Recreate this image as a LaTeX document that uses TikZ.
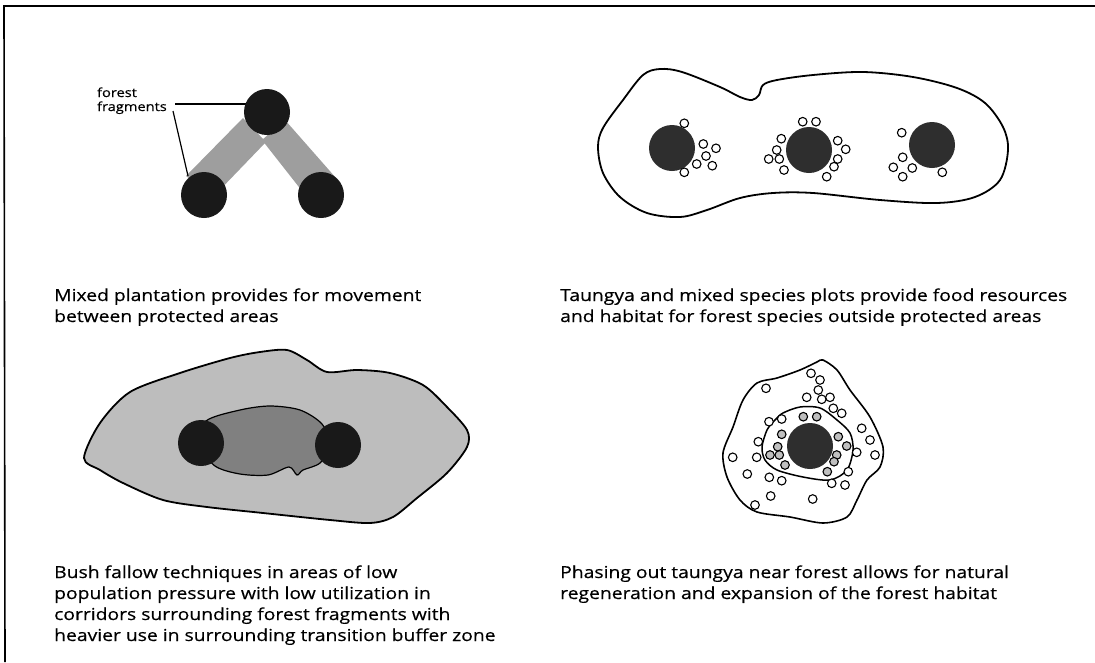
\documentclass[tikz,border=0pt]{standalone}
\usepackage{fontspec}
\setmainfont{Open Sans}
\newfontfamily\capfont[FakeStretch=1.17,FakeBold=0.4]{Open Sans}
\usetikzlibrary{calc}
\begin{document}
\begin{tikzpicture}[x=1pt,y=-1pt,
  outline/.style={draw=black,line width=1.8pt,line join=round},
  darkdot/.style={circle,fill=black!90,minimum size=46pt,inner sep=0pt},
  greydot/.style={circle,fill=black!82,minimum size=46pt,inner sep=0pt},
  ring/.style={circle,draw=black,line width=1.1pt,fill=white,minimum size=8.6pt,inner sep=0pt},
  dotring/.style={circle,draw=black,line width=1.1pt,fill=black!25,minimum size=8.6pt,inner sep=0pt},
  caption/.style={anchor=base west,font=\capfont\fontsize{16.5}{21}\selectfont,inner sep=0pt},
  tag/.style={font=\capfont\fontsize{12.5}{15}\selectfont,inner sep=0pt},
  leader/.style={draw=black,line width=1.2pt},
  corridor/.style={fill=black!38},
  frameline/.style={draw=black,line width=1.6pt}]
\useasboundingbox (0,0) rectangle (1095,662);
\fill[white] (0,0) rectangle (1095,662);
% frame
\coordinate (f0) at (4,6); \coordinate (f1) at (1095,6); \coordinate (f2) at (5,662);
\draw[frameline] (f1) -- (f0) -- (f2);

% ---------- top left ----------
\coordinate (c1) at (267,112);
\coordinate (c2) at (204,195);
\coordinate (c3) at (321,195);
\fill[corridor] (186,176) -- (243,118) -- (266,142) -- (214,196) -- cycle;
\fill[corridor] (285,120) -- (336,178) -- (306,196) -- (262,140) -- cycle;
\node[tag,anchor=base east] (t2) at (167,111) {fragments};
\node[tag,anchor=base west] (t1) at ($(t2.base west)+(0,-14)$) {forest};
\coordinate (l0) at (175,104);
\coordinate (l1) at (173,111);
\coordinate (l2) at (188,176);
\draw[leader] (l0) -- (l0 -| c1);
\draw[leader] (l1) -- (l2);
\node[darkdot] (d1) at (c1) {};
\node[darkdot] (d2) at (c2) {};
\node[darkdot] (d3) at (c3) {};
\node[caption] (cap1a) at (54,301) {Mixed plantation provides for movement};
\node[caption] (cap1b) at (54,322) {between protected areas};

% ---------- top right ----------
\draw[outline] plot[smooth cycle,tension=0.55] coordinates {
 (598,147) (603,128) (623,100) (643,75) (660,69) (682,72) (720,87) (740,97)
 (752,100) (759,95) (763,85) (777,80) (813,75) (863,72) (913,77) (957,88)
 (985,103) (1003,127) (1008,150) (1000,180) (975,197) (937,203) (880,200)
 (813,193) (773,193) (740,198) (707,210) (680,217) (647,213) (620,197) (603,173)};
\node[greydot] (e1) at (672,148) {};
\node[greydot] (e2) at (809,150) {};
\node[greydot] (e3) at (932,145) {};
\foreach \p [count=\i] in {(684.3,123.3),(703.3,144),(716,148.3),(706,156),(696.7,164),(712.3,165.7),(684.3,172.3)}
  \node[ring] (ra\i) at \p {};
\foreach \p [count=\i] in {(802.7,121.7),(816,121.7),(781.3,138.7),(776.7,150),(768.7,159),(779.3,159),(784,170),(837.7,140.7),(845.7,149.3),(837.7,159),(834,166.7),(826.7,176.7)}
  \node[ring] (rb\i) at \p {};
\foreach \p [count=\i] in {(901.7,132.7),(902.7,157.3),(893.3,167.3),(912.3,168),(902.7,176.7),(942.3,172.3)}
  \node[ring] (rc\i) at \p {};
\node[caption] (cap2a) at (560,301) {Taungya and mixed species plots provide food resources};
\node[caption] (cap2b) at (560,322) {and habitat for forest species outside protected areas};

% ---------- bottom left ----------
\draw[outline,fill=black!26] plot[smooth cycle,tension=0.5] coordinates {
 (84,458) (100,423) (130,392) (180,373) (230,358) (260,352) (287,350) (307,360)
 (327,372) (357,370) (390,373) (423,385) (447,407) (467,430) (467,447) (447,473)
 (417,498) (393,517) (370,523) (330,520) (263,513) (207,507) (163,500) (123,483) (100,470)};
\draw[draw=black,line width=1.2pt,fill=black!50] plot[smooth cycle,tension=0.5] coordinates {
 (206,421) (240,410) (270,406) (300,410) (322,424) (330,445) (320,463) (303,470)
 (297,475) (289,467) (268,475) (240,474) (215,466) (200,445)};
\node[darkdot] (g1) at (201,443) {};
\node[darkdot] (g2) at (338,445) {};
\node[caption] (cap3a) at (54,578) {Bush fallow techniques in areas of low};
\node[caption] (cap3b) at (54,599) {population pressure with low utilization in};
\node[caption] (cap3c) at (54,620) {corridors surrounding forest fragments with};
\node[caption] (cap3d) at (54,641) {heavier use in surrounding transition buffer zone};

% ---------- bottom right ----------
\draw[outline,line width=1.6pt] plot[smooth cycle,tension=0.5] coordinates {
 (823,360) (837,370) (850,390) (870,417) (883,447) (880,467) (867,480) (857,500)
 (847,517) (823,523) (790,517) (757,512) (740,500) (727,477) (723,453) (733,427)
 (743,400) (757,383) (777,378) (800,370) (817,362)};
\draw[outline,line width=1.5pt] plot[smooth cycle,tension=0.5] coordinates {
 (783,413) (800,407) (820,408) (837,420) (850,433) (853,450) (847,470) (830,480)
 (803,477) (777,470) (765,460) (762,447) (767,430) (775,420)};
\node[greydot] (h1) at (810,446) {};
\foreach \p [count=\i] in {(811,373.3),(820,380),(766,388.3),(818.3,390),(806.7,397.3),(821.7,399.3),(830,397.3),(833.3,408.3),(841.7,413.3),(769,421.7),(781.7,419),(861.7,428.3),(870,440),(758.3,441.7),(875,455),(856.7,452.3),(732.7,457.3),(756.7,457.3),(848.3,471.7),(747.3,474),(769.3,477.3),(781.7,480.7),(831.7,483.3),(845,485),(770.7,496),(812.7,499),(755,505)}
  \node[ring] (rd\i) at \p {};
\foreach \p [count=\i] in {(803.3,416.7),(816.7,416.7),(781.7,434.3),(777.7,446.7),(770,455),(779.3,455),(785,465),(838.3,436.7),(846.7,446),(836.7,455),(834,461.7),(827.3,471.7)}
  \node[dotring] (re\i) at \p {};
\node[caption] (cap4a) at (560,578) {Phasing out taungya near forest allows for natural};
\node[caption] (cap4b) at (560,599) {regeneration and expansion of the forest habitat};
\end{tikzpicture}
\end{document}
